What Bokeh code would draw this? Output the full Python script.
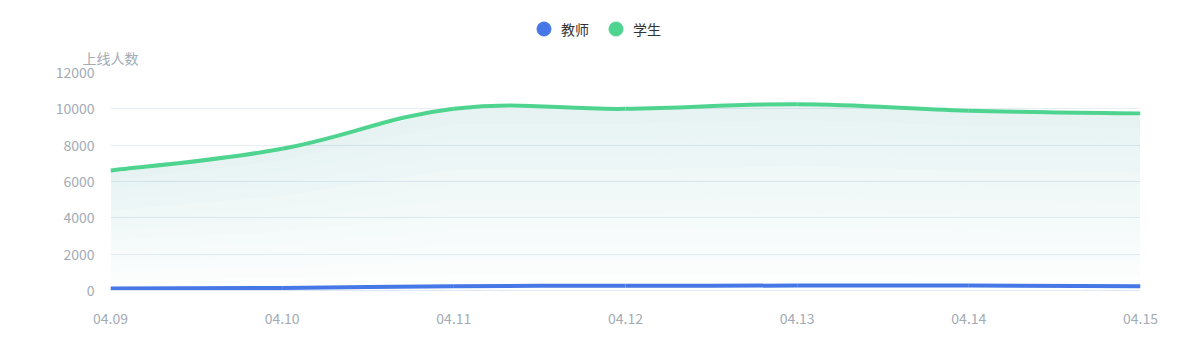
from bokeh.plotting import figure
from bokeh.layouts import column
from bokeh.models import (ColumnDataSource, FixedTicker, Legend, LegendItem, Title,
                          Range1d)
from bokeh.embed import file_html
from bokeh.resources import INLINE

dates = ["04.09", "04.10", "04.11", "04.12", "04.13", "04.14", "04.15"]
teachers = [110, 140, 240, 260, 270, 280, 230]
students = [6600, 7800, 10000, 10000, 10250, 9900, 9750]
series_names = ["教师", "学生"]
y_axis_name = "上线人数"

FONT = "Noto Sans CJK SC"
GREEN = "#4fd490"
BLUE = "#4677e6"
TICK = "#a3abb5"
W = 1184
TOP_H = 40

x = list(range(len(dates)))

# ---------- header (legend) ----------
top = figure(width=W, height=TOP_H, output_backend="svg", toolbar_location=None,
             x_range=Range1d(0, 1), y_range=Range1d(0, 1),
             x_axis_location=None, y_axis_location=None,
             min_border=0, min_border_left=0, min_border_right=0,
             min_border_top=0, min_border_bottom=0)
top.outline_line_color = None
top.xgrid.grid_line_color = None
top.ygrid.grid_line_color = None
# invisible (size 0, out of range) carriers for the legend glyphs
r_t = top.scatter(x=x, y=teachers, size=0, marker="circle",
                  fill_color=BLUE, line_color=BLUE)
r_s = top.scatter(x=x, y=students, size=0, marker="circle",
                  fill_color=GREEN, line_color=GREEN)
legend = Legend(items=[LegendItem(label=series_names[0], renderers=[r_t], index=0),
                       LegendItem(label=series_names[1], renderers=[r_s], index=0)],
                orientation="horizontal", location=(416, -6),
                label_text_font=FONT, label_text_font_size="14px",
                label_text_color="#333333", border_line_color=None,
                background_fill_alpha=0, glyph_width=35, glyph_height=35,
                spacing=9, label_standoff=0, padding=0, margin=0)
top.add_layout(legend)

# ---------- main chart ----------
p = figure(width=W, height=344 - TOP_H, output_backend="svg", toolbar_location=None,
           x_range=Range1d(0, len(dates) - 1), y_range=Range1d(0, 12000),
           min_border_left=110, min_border_right=44, min_border_top=32,
           min_border_bottom=54)
p.outline_line_color = None
p.add_layout(Title(text=y_axis_name, text_font=FONT, text_font_size="14px",
                   text_color=TICK, text_font_style="normal", align="left",
                   offset=-28, standoff=10), "above")


def smooth_ctrl(xs, ys, t=0.2):
    n = len(xs)
    c1x, c1y, c2x, c2y = [], [], [], []
    for i in range(n - 1):
        p0 = i - 1 if i > 0 else i
        p3 = i + 2 if i + 2 < n else i + 1
        c1x.append(xs[i] + (xs[i + 1] - xs[p0]) * t)
        c1y.append(ys[i] + (ys[i + 1] - ys[p0]) * t)
        c2x.append(xs[i + 1] - (xs[p3] - xs[i]) * t)
        c2y.append(ys[i + 1] - (ys[p3] - ys[i]) * t)
    return dict(x0=xs[:-1], y0=ys[:-1], x1=xs[1:], y1=ys[1:],
                cx0=c1x, cy0=c1y, cx1=c2x, cy1=c2y)


# gradient-like area under students
N = 12
for k in range(N):
    lo = [v * k / N for v in students]
    p.varea(x=x, y1=lo, y2=students, fill_color=GREEN, fill_alpha=0.12 / N)

sb = ColumnDataSource(smooth_ctrl(x, students))
p.bezier(x0="x0", y0="y0", x1="x1", y1="y1", cx0="cx0", cy0="cy0", cx1="cx1", cy1="cy1",
         source=sb, line_color=GREEN, line_width=4)
tb = ColumnDataSource(smooth_ctrl(x, teachers))
p.bezier(x0="x0", y0="y0", x1="x1", y1="y1", cx0="cx0", cy0="cy0", cx1="cx1", cy1="cy1",
         source=tb, line_color=BLUE, line_width=4)

p.xaxis.ticker = FixedTicker(ticks=x)
p.xaxis.major_label_overrides = {i: d for i, d in enumerate(dates)}
p.yaxis.ticker = FixedTicker(ticks=[0, 2000, 4000, 6000, 8000, 10000, 12000])
for ax in (p.xaxis[0], p.yaxis[0]):
    ax.major_label_text_font = FONT
    ax.major_label_text_font_size = "14px"
    ax.major_label_text_color = TICK
    ax.major_tick_line_color = None
    ax.minor_tick_line_color = None
p.yaxis.axis_line_color = None
p.xaxis.axis_line_color = "#dde8f2"
p.xaxis.axis_line_width = 1
p.xaxis.major_label_standoff = 16
p.yaxis.major_label_standoff = 10

p.xgrid.grid_line_color = None
p.ygrid.grid_line_color = "#e6eef4"
p.ygrid.grid_line_width = 1

layout = column(top, p, spacing=0)
open("out.html", "w").write(file_html(layout, INLINE))
